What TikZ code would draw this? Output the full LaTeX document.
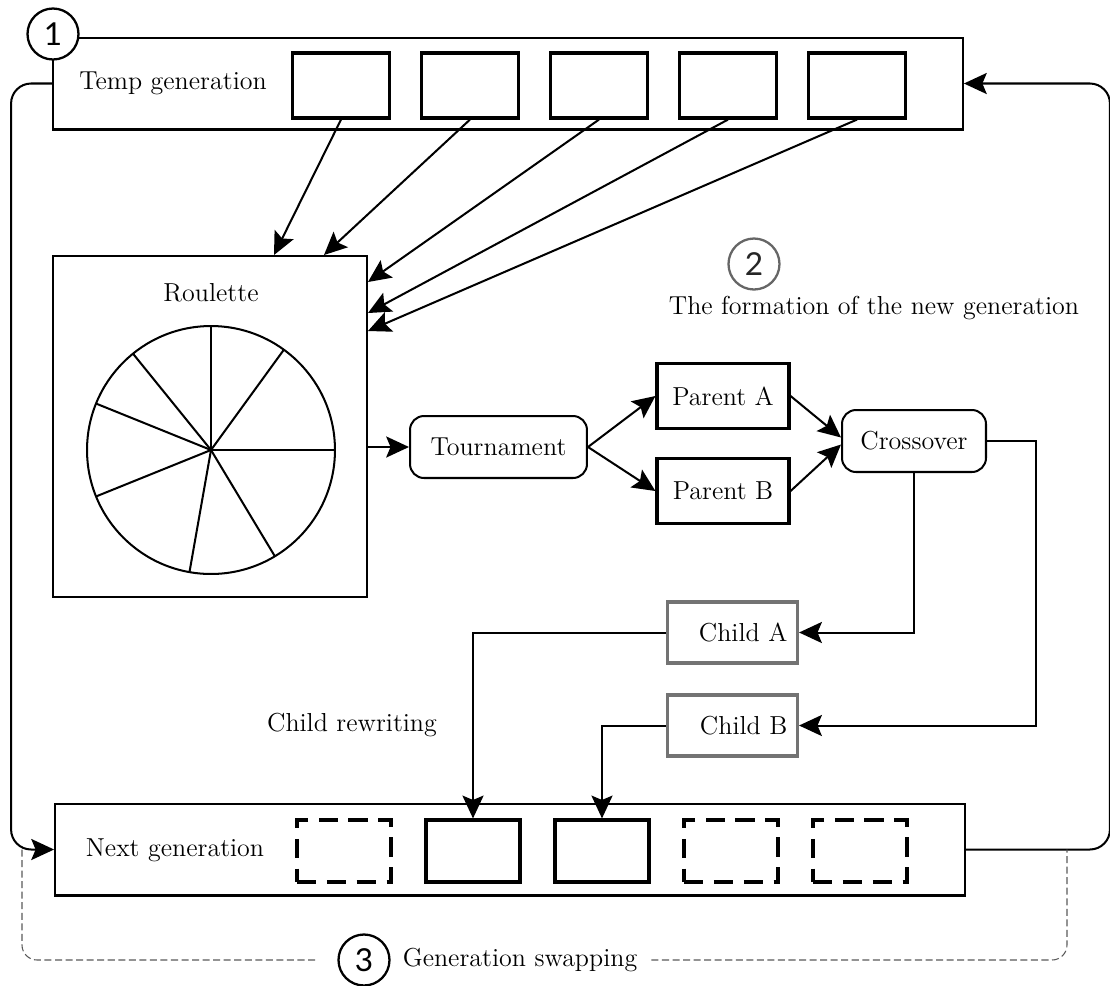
\documentclass[tikz,border=0pt]{standalone}
\usepackage{fontspec}
\newfontfamily\numfont{Lato}
\usepackage{tikz}
\usetikzlibrary{arrows.meta,positioning}

\begin{document}
\begin{tikzpicture}[x=0.02cm,y=-0.02cm,
  font=\fontsize{14.8}{18}\selectfont,
  conn/.style={line width=1.15pt,-{Stealth[length=13pt,width=12pt,inset=2.5pt]}},
  genbox/.style={draw,line width=1.15pt,minimum width=18.2cm,minimum height=1.84cm},
  slot/.style={draw,line width=1.8pt,minimum width=1.94cm,minimum height=1.3cm},
  nslot/.style={slot,minimum width=1.88cm,minimum height=1.24cm},
  emptyslot/.style={nslot,dash pattern=on 11pt off 6pt},
  procbox/.style={draw,line width=1.15pt,rounded corners=0.28cm,minimum height=1.24cm},
  parentbox/.style={draw,line width=1.8pt,minimum width=2.64cm,minimum height=1.3cm},
  childbox/.style={draw=black!55,line width=1.8pt,minimum height=1.22cm,text width=2.2cm,align=right,inner xsep=0.2cm},
  stage/.style={circle,draw,fill=white,line width=1.3pt,minimum size=1.02cm,inner sep=0pt,font=\numfont\fontsize{18}{18}\selectfont},
  swapline/.style={black!65,line width=0.6pt,dash pattern=on 4pt off 2pt,rounded corners=0.3cm}]

\useasboundingbox (0,0) rectangle (1110,985);

\node[genbox] (tempgen) at (508,83.5) {};
\node (temptext) at (173,83) {Temp generation};
\foreach \i in {1,...,5}
  \node[slot] (tb\i) at ({341+129*(\i-1)},85.5) {};

\node[genbox] (nextgen) at (510,849.5) {};
\node (nexttext) at (175,850) {Next generation};
\foreach \i/\s in {1/emptyslot,2/nslot,3/nslot,4/emptyslot,5/emptyslot}
  \node[\s] (nb\i) at ({344+129*(\i-1)},851) {};

\node[draw,line width=1.15pt,minimum width=6.28cm,minimum height=6.82cm] (roulette) at (210,426.5) {};
\node (roultext) at (211,293) {Roulette};
\coordinate (wheel) at (211,450);
\draw[line width=1.15pt] (wheel) circle[radius=2.48cm];
\foreach \a in {90,54,0,-59,-100,202,158,129}
  \draw[line width=1.15pt] (wheel) -- +(\a:2.48cm);

\node[procbox,minimum width=3.54cm] (tourn) at (498.5,447) {Tournament};
\node[parentbox] (parA) at (723,396) {Parent A};
\node[parentbox] (parB) at (723,491) {Parent B};
\node[procbox,minimum width=2.88cm] (cross) at (914,441) {Crossover};
\node[childbox] (childA) at (732.5,632.5) {Child A};
\node[childbox] (childB) at (732.5,725.5) {Child B};
\node (rewrite) at (352,725) {Child rewriting};

\node[stage,draw=black!60,text=black!85] (st2) at (754,264) {2};
\node (formtext) at (874,308) {The formation of the new generation};

\draw[conn] (tb1.south) -- ([xshift=-1.88cm]roulette.north east);
\draw[conn] (tb2.south) -- ([xshift=-0.88cm]roulette.north east);
\draw[conn] (tb3.south) -- ([yshift=-0.54cm]roulette.north east);
\draw[conn] (tb4.south) -- ([yshift=-1.16cm]roulette.north east);
\draw[conn] (tb5.south) -- ([yshift=-1.52cm]roulette.north east);

\draw[conn] (roulette.east |- tourn) -- (tourn);
\draw[conn] (tourn.east) -- (parA.west);
\draw[conn] (tourn.east) -- (parB.west);
\draw[conn] (parA.east) -- ([yshift=2pt]cross.west);
\draw[conn] (parB.east) -- ([yshift=-2pt]cross.west);
\draw[conn] (cross.south) |- (childA.east);
\draw[conn] (cross.east) -- ++(49,0) |- (childB.east);
\draw[conn] (childA.west) -| (nb2.north);
\draw[conn] (childB.west) -| (nb3.north);

\draw[conn,rounded corners=0.4cm] (tempgen.west) -- ++(-41,0) |- (nextgen.west);
\draw[conn,rounded corners=0.4cm] (nextgen.east) -- ++(144,0) |- (tempgen.east);

\node[stage] (st1) at (53,34) {1};

\coordinate (swapL) at (22,849.5);
\coordinate (swapR) at (1067,849.5);
\node[stage] (st3) at (364,960) {3};
\node (swaptext) at (520,960) {Generation swapping};
\draw[swapline,shorten >=0.44cm] (swapL) |- (st3.west);
\draw[swapline,shorten <=0.16cm] (swaptext.east) -| (swapR);
\end{tikzpicture}
\end{document}
